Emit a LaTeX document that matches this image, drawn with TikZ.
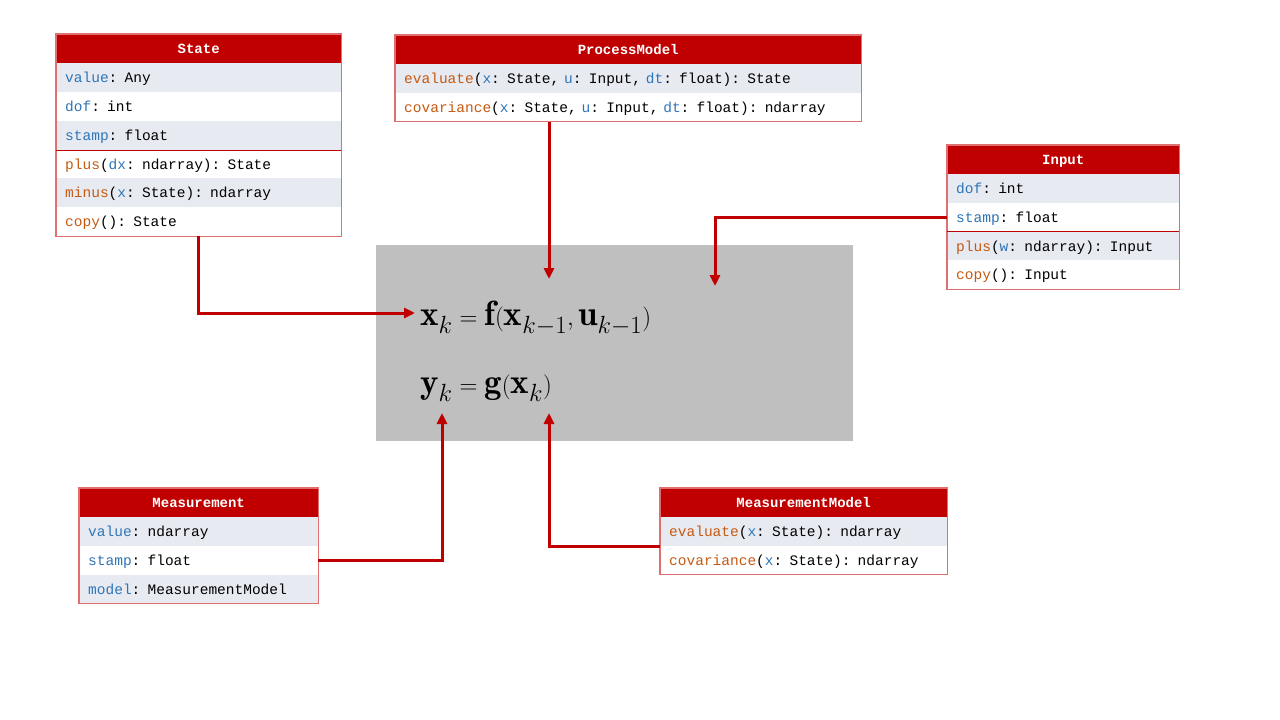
\documentclass[tikz,border=0pt]{standalone}
\usepackage{fontspec}
\usepackage{amsmath}
\setmonofont{Liberation Mono}
\usetikzlibrary{arrows.meta}
\definecolor{hdr}{HTML}{C00000}
\definecolor{bord}{HTML}{E07070}
\definecolor{alt}{HTML}{E8EAF2}
\definecolor{kb}{HTML}{2E75B6}
\definecolor{ko}{HTML}{C55A11}
\definecolor{gbox}{HTML}{BFBFBF}
\newcommand\kb[1]{\textcolor{kb}{#1}}
\newcommand\ko[1]{\textcolor{ko}{#1}}
\tikzset{
 rowsty/.style={anchor=north west, minimum height=28.7pt, inner ysep=0pt, inner xsep=9pt, align=left, font=\ttfamily\fontsize{14.5}{16}\selectfont, text depth=0pt},
 hdrsty/.style={rowsty, fill=hdr, text=white, align=center, font=\ttfamily\bfseries\fontsize{14}{16}\selectfont},
 outline/.style={draw=bord, line width=1.2pt},
 sep/.style={draw=hdr, line width=1pt},
 conn/.style={draw=hdr, line width=3pt, -{Triangle[length=11pt,width=10pt]}}
}
% #1 name #2 x #3 y #4 width #5 fill #6 text
\newcommand\umlrow[6]{\node[rowsty, fill=#5, text width=#4pt-18pt] (#1) at (#2,#3) {#6};}
\newcommand\umlhdr[5]{\node[hdrsty, text width=#4pt-18pt] (#1) at (#2,#3) {#5};}
\begin{document}
\begin{tikzpicture}[x=1pt,y=-1pt]
\useasboundingbox (0,0) rectangle (1280,720);
% equations box
\node[fill=gbox, minimum width=477pt, minimum height=196pt, anchor=north west, inner sep=0] (eqbox) at (376,245) {};
\node[anchor=base west, inner sep=0, font=\fontsize{35}{40}\selectfont] (eq1) at (420,325) {$\mathbf{x}_k = \mathbf{f}(\mathbf{x}_{k-1}, \mathbf{u}_{k-1})$};
\node[anchor=base west, inner sep=0, font=\fontsize{35}{40}\selectfont] (eq2) at (420,393) {$\mathbf{y}_k = \mathbf{g}(\mathbf{x}_k)$};
\coordinate (tState) at (415,313);
\coordinate (tProc) at (549,279);
\coordinate (tInput) at (715,286);
\coordinate (tMeas) at (442,413);
\coordinate (tMM) at (549,413);
% State
\umlhdr{State}{56}{34}{285}{State}
\umlrow{s1}{56}{63}{285}{alt}{\kb{value}: Any}
\umlrow{s2}{56}{92}{285}{white}{\kb{dof}: int}
\umlrow{s3}{56}{121}{285}{alt}{\kb{stamp}: float}
\umlrow{s4}{56}{150}{285}{white}{\ko{plus}(\kb{dx}: ndarray): State}
\umlrow{s5}{56}{178}{285}{alt}{\ko{minus}(\kb{x}: State): ndarray}
\umlrow{s6}{56}{207}{285}{white}{\ko{copy}(): State}
\draw[outline] (State.north west) rectangle (s6.south east);
\draw[sep] (s3.south west) -- (s3.south east);
% ProcessModel
\umlhdr{PM}{395}{35}{466}{ProcessModel}
\umlrow{p1}{395}{64}{466}{alt}{\ko{evaluate}(\kb{x}: State, \kb{u}: Input, \kb{dt}: float): State}
\umlrow{p2}{395}{92.7}{466}{white}{\ko{covariance}(\kb{x}: State, \kb{u}: Input, \kb{dt}: float): ndarray}
\draw[outline] (PM.north west) rectangle (p2.south east);
% Input
\umlhdr{Input}{947}{145}{232}{Input}
\umlrow{i1}{947}{174}{232}{alt}{\kb{dof}: int}
\umlrow{i2}{947}{202.7}{232}{white}{\kb{stamp}: float}
\umlrow{i3}{947}{231.4}{232}{alt}{\ko{plus}(\kb{w}: ndarray): Input}
\umlrow{i4}{947}{260.1}{232}{white}{\ko{copy}(): Input}
\draw[outline] (Input.north west) rectangle (i4.south east);
\draw[sep] (i2.south west) -- (i2.south east);
% Measurement
\umlhdr{Meas}{79}{488}{239}{Measurement}
\umlrow{m1}{79}{517}{239}{alt}{\kb{value}: ndarray}
\umlrow{m2}{79}{545.7}{239}{white}{\kb{stamp}: float}
\umlrow{m3}{79}{574.4}{239}{alt}{\kb{model}: MeasurementModel}
\draw[outline] (Meas.north west) rectangle (m3.south east);
% MeasurementModel
\umlhdr{MM}{660}{488}{287}{MeasurementModel}
\umlrow{n1}{660}{517}{287}{alt}{\ko{evaluate}(\kb{x}: State): ndarray}
\umlrow{n2}{660}{545.7}{287}{white}{\ko{covariance}(\kb{x}: State): ndarray}
\draw[outline] (MM.north west) rectangle (n2.south east);
% connectors
\draw[conn] (s6.south -| 198,0) |- (tState);
\draw[conn] (p2.south -| tProc) -- (tProc);
\draw[conn] (i2.west) -| (tInput);
\draw[conn] (m2.east) -| (tMeas);
\draw[conn] (n1.south west) -| (tMM);
\end{tikzpicture}
\end{document}
